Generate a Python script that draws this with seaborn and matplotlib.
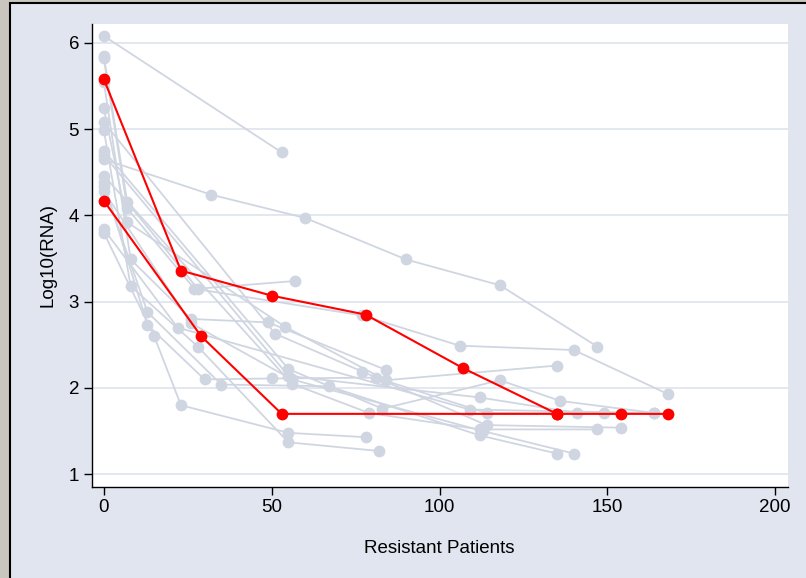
import matplotlib
matplotlib.use("Agg")
import matplotlib.pyplot as plt
from matplotlib.patches import Rectangle
import seaborn as sns
import pandas as pd

# ---------------- data ----------------
g01_time = [0, 53]
g01_rna = [6.08, 4.73]
g02_time = [0, 32, 60, 90, 118, 147]
g02_rna = [4.65, 4.24, 3.97, 3.49, 3.19, 2.48]
g03_time = [0, 7, 28, 57]
g03_rna = [5.85, 4.15, 3.15, 3.24]
g04_time = [0, 7, 27, 77, 106, 140, 168]
g04_rna = [5.82, 4.08, 3.15, 2.84, 2.49, 2.44, 1.93]
g05_time = [0, 8, 26, 49, 84]
g05_rna = [5.55, 3.49, 2.80, 2.76, 2.21]
g06_time = [0, 8, 28, 55, 82]
g06_rna = [4.99, 3.18, 2.48, 1.37, 1.27]
g07_time = [0, 15, 23, 55, 78]
g07_rna = [3.80, 2.60, 1.80, 1.48, 1.43]
g08_time = [0, 13, 30, 50, 81, 114, 149]
g08_rna = [4.39, 2.73, 2.10, 2.11, 2.12, 1.71, 1.71]
g09_time = [0, 13, 35, 67, 112, 135]
g09_rna = [4.34, 2.88, 2.04, 2.02, 1.45, 1.24]
g10_time = [0, 7, 54, 84, 135]
g10_rna = [5.24, 3.92, 2.71, 2.09, 2.26]
g11_time = [0, 51, 77, 114, 154]
g11_rna = [5.08, 2.63, 2.19, 1.57, 1.54]
g12_time = [0, 55, 83, 118, 136, 164]
g12_rna = [4.75, 2.22, 1.76, 2.09, 1.85, 1.71]
g13_time = [0, 56, 79, 112, 147]
g13_rna = [4.46, 2.05, 1.71, 1.52, 1.52]
g14_time = [0, 55, 112, 141]
g14_rna = [4.70, 2.14, 1.89, 1.71]
g15_time = [0, 22, 109, 164]
g15_rna = [3.84, 2.70, 1.75, 1.71]
g16_time = [0, 26, 56, 113, 140]
g16_rna = [4.28, 2.75, 2.10, 1.50, 1.24]

r01_time = [0, 23, 50, 78, 107, 135, 154, 168]
r01_rna = [5.58, 3.36, 3.07, 2.85, 2.23, 1.70, 1.70, 1.70]
r02_time = [0, 29, 53, 135]
r02_rna = [4.17, 2.60, 1.70, 1.70]

x_ticks = [0, 50, 100, 150, 200]
y_ticks = [1, 2, 3, 4, 5, 6]
x_label = "Resistant Patients"
y_label = "Log10(RNA)"

gray_series = {
    "g01": (g01_time, g01_rna), "g02": (g02_time, g02_rna),
    "g03": (g03_time, g03_rna), "g04": (g04_time, g04_rna),
    "g05": (g05_time, g05_rna), "g06": (g06_time, g06_rna),
    "g07": (g07_time, g07_rna), "g08": (g08_time, g08_rna),
    "g09": (g09_time, g09_rna), "g10": (g10_time, g10_rna),
    "g11": (g11_time, g11_rna), "g12": (g12_time, g12_rna),
    "g13": (g13_time, g13_rna), "g14": (g14_time, g14_rna),
    "g15": (g15_time, g15_rna), "g16": (g16_time, g16_rna),
}
red_series = {"r01": (r01_time, r01_rna), "r02": (r02_time, r02_rna)}


def to_frame(series):
    rows = []
    for pid, (t, v) in series.items():
        for order, (a, b) in enumerate(zip(t, v)):
            rows.append({"patient": pid, "order": order, "time": a, "rna": b})
    return pd.DataFrame(rows)


gray_df = to_frame(gray_series)
red_df = to_frame(red_series)

# ---------------- styling ----------------
sns.set_style("white")
plt.rcParams["font.family"] = ["Liberation Sans", "DejaVu Sans"]

W, H = 806, 578
fig = plt.figure(figsize=(W / 100, H / 100), dpi=100, facecolor="#c9c6c0")

panel = Rectangle((9.5 / W, -0.02), 1.05, 1 - 3.3 / H + 0.02,
                  transform=fig.transFigure, facecolor="#e0e5ef",
                  edgecolor="black", linewidth=1.5, zorder=-10)
fig.patches.append(panel)

left, right = 91.5 / W, 788 / W
bottom, top = 1 - 486.7 / H, 1 - 24 / H
ax = fig.add_axes([left, bottom, right - left, top - bottom], zorder=5)
ax.set_facecolor("white")

gray_col = "#d0d6e1"
red_col = "#ff0000"

sns.lineplot(data=gray_df, x="time", y="rna", units="patient",
             estimator=None, sort=False, color=gray_col, linewidth=1.3,
             marker="o", markersize=8.5, markeredgewidth=0,
             markerfacecolor=gray_col, ax=ax, zorder=2, legend=False)
sns.lineplot(data=red_df, x="time", y="rna", units="patient",
             estimator=None, sort=False, color=red_col, linewidth=1.5,
             marker="o", markersize=8.5, markeredgewidth=0,
             markerfacecolor=red_col, ax=ax, zorder=3, legend=False)

ax.set_xlim(-3.66, 203.8)
ax.set_ylim(0.856, 6.218)
ax.set_xticks(x_ticks)
ax.set_yticks(y_ticks)
ax.yaxis.grid(True, color="#e0e5ef", linewidth=1.3, zorder=1)
ax.xaxis.grid(False)
ax.set_axisbelow(True)

for s in ["top", "right"]:
    ax.spines[s].set_visible(False)
for s in ["left", "bottom"]:
    ax.spines[s].set_color("black")
    ax.spines[s].set_linewidth(1.0)

ax.tick_params(axis="both", which="major", direction="out", length=6,
               width=1, color="black", labelsize=13.5, labelcolor="black",
               pad=3, left=True, bottom=True)
ax.set_xlabel(x_label, fontsize=13.5, labelpad=17, color="black")
ax.set_ylabel(y_label, fontsize=13.5, labelpad=9, color="black")

fig.savefig("out.png", dpi=100, facecolor=fig.get_facecolor())
